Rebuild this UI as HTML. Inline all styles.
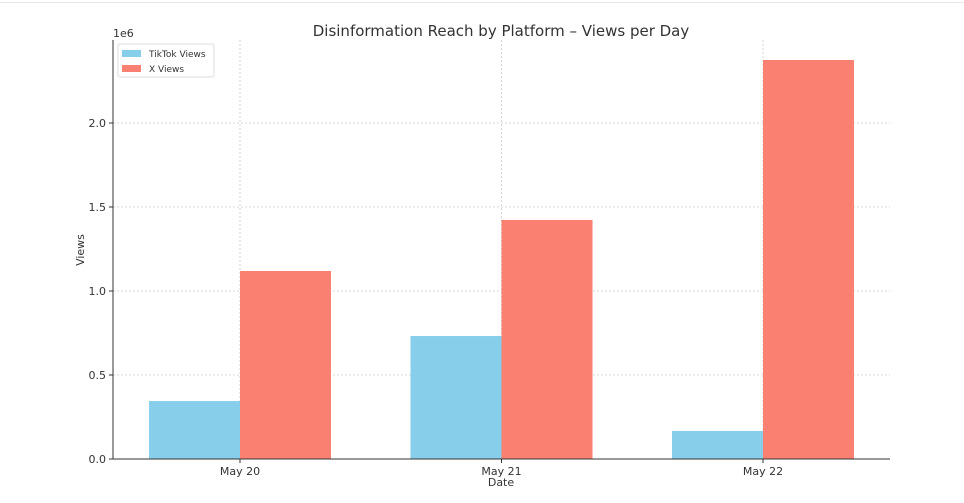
<!DOCTYPE html>
<html><head><meta charset="utf-8"><style>
body{margin:0;background:#fff;font-family:"DejaVu Sans","Liberation Sans",sans-serif;}
svg text{font-family:"DejaVu Sans","Liberation Sans",sans-serif;}
</style></head><body>
<svg id="chart" width="964" height="499" xmlns="http://www.w3.org/2000/svg">
<line x1="0" y1="2.5" x2="964" y2="2.5" stroke="#e6e6e6"/>
<text x="501" y="36" font-size="15" text-anchor="middle" fill="#333">Disinformation Reach by Platform – Views per Day</text>
<text x="113" y="37" font-size="11" fill="#333">1e6</text>
<text x="501" y="486" font-size="11" text-anchor="middle" fill="#333">Date</text>
<text x="84" y="250" font-size="11" text-anchor="middle" fill="#333" transform="rotate(-90 84 250)">Views</text>
<g id="grid"></g><g id="bars"></g><g id="axes"></g>
<g>
<rect x="118" y="44" width="96" height="33" fill="#fff" stroke="#ddd" rx="2"/>
<rect x="122" y="50" width="19" height="7" fill="#87ceeb"/>
<text x="149" y="57" font-size="9" fill="#333">TikTok Views</text>
<rect x="122" y="65" width="19" height="7" fill="#fa8072"/>
<text x="149" y="72" font-size="9" fill="#333">X Views</text>
</g>
</svg>
<script>
const categories=["May 20","May 21","May 22"];
const tiktokViews=[345000,732000,167000];
const xViews=[1119000,1423000,2375000];
const yTicks=[0,500000,1000000,1500000,2000000];
const yTickLabels=["0.0","0.5","1.0","1.5","2.0"];
const ns="http://www.w3.org/2000/svg";
const L=113,R=890,B=459,PXPER=168/1e6;
const y=v=>B-v*PXPER;
const cx=i=>240+i*261.5;
const BW=91;
function mk(tag,attrs,parent,txt){const e=document.createElementNS(ns,tag);for(const k in attrs)e.setAttribute(k,attrs[k]);if(txt!==undefined)e.textContent=txt;document.getElementById(parent).appendChild(e);return e;}
yTicks.forEach((t,i)=>{
 const g=mk('line',{x1:L,x2:R,y1:y(t),y2:y(t),stroke:'#ccc','stroke-dasharray':'2,2','stroke-width':0.8},'grid');
 
 
 const tk=mk('line',{x1:L-4,x2:L,y1:y(t),y2:y(t),stroke:'#333'},'axes');
 
 
 const lb=mk('text',{x:L-7,y:y(t)+4,'font-size':11,'text-anchor':'end',fill:'#333'},'axes',yTickLabels[i]);
 
 
});
categories.forEach((c,i)=>{
 const g=mk('line',{x1:cx(i),x2:cx(i),y1:40,y2:B,stroke:'#ccc','stroke-dasharray':'2,2','stroke-width':0.8},'grid');
 
 
 const a=mk('rect',{x:cx(i)-BW,y:y(tiktokViews[i]),width:BW,height:B-y(tiktokViews[i]),fill:'#87ceeb'},'bars');
 
 
 const b=mk('rect',{x:cx(i),y:y(xViews[i]),width:BW,height:B-y(xViews[i]),fill:'#fa8072'},'bars');
 
 
 const tk=mk('line',{x1:cx(i),x2:cx(i),y1:B,y2:B+4,stroke:'#333'},'axes');
 
 
 const lb=mk('text',{x:cx(i),y:B+16,'font-size':11,'text-anchor':'middle',fill:'#333'},'axes',c);
 
 
});
const ax=mk('line',{x1:L,x2:L,y1:40,y2:B,stroke:'#333'},'axes');


const bx=mk('line',{x1:L,x2:R,y1:B,y2:B,stroke:'#333'},'axes');


</script>
</body></html>
